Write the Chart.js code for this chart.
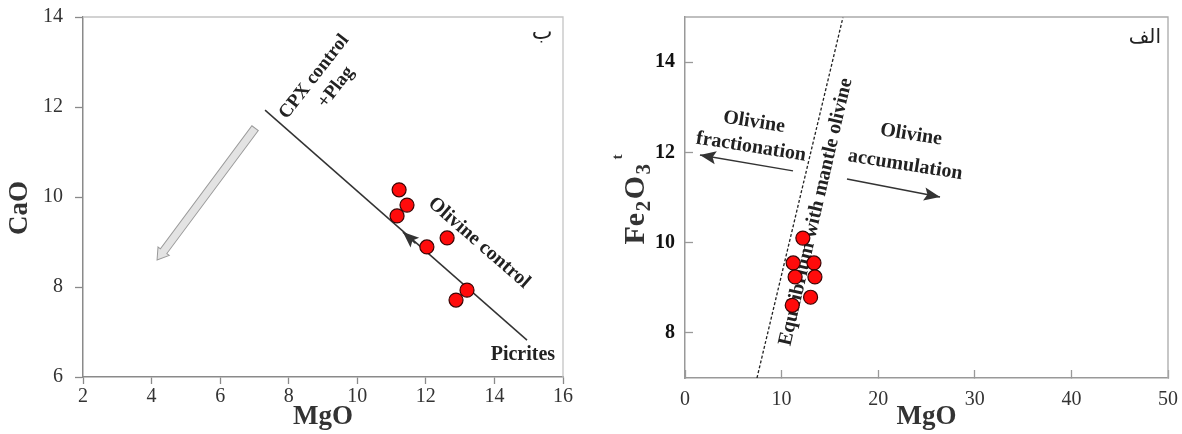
<!DOCTYPE html>
<html>
<head>
<meta charset="utf-8">
<script src="https://cdn.jsdelivr.net/npm/chart.js@4.4.1/dist/chart.umd.min.js"></script>
<style>
  html, body { margin: 0; padding: 0; background: #fff; }
  #wrap { position: relative; width: 1182px; height: 434px; }
  canvas { position: absolute; top: 0; }
  #chartCaO { left: 0; }
  #chartFe { left: 590px; }
</style>
</head>
<body>
<div id="wrap">
  <canvas id="chartCaO" width="590" height="434"></canvas>
  <canvas id="chartFe" width="592" height="434"></canvas>
</div>
<script>
// left diagram (ب) : CaO vs MgO
const mgoLeft = [11.22, 11.45, 11.16, 12.03, 12.62, 13.2, 12.88];
const caoLeft = [10.16, 9.82, 9.58, 8.89, 9.09, 7.93, 7.71];
const olivineLineX = [14.95, 7.31];
const olivineLineY = [6.82, 11.93];
const olivineArrowX = [11.7, 11.33];
const olivineArrowY = [8.97, 9.22];
const cpxArrowX = [7.02, 4.16];
const cpxArrowY = [11.53, 8.6];
const xTicksLeft = [2, 4, 6, 8, 10, 12, 14, 16];
const yTicksLeft = [6, 8, 10, 12, 14];

// right diagram (الف) : Fe2O3t vs MgO
const mgoRight = [12.2, 11.2, 13.35, 11.4, 13.45, 13.0, 11.1];
const feRight = [10.1, 9.55, 9.55, 9.24, 9.24, 8.79, 8.61];
const equilX = [7.45, 16.36];
const equilY = [7, 15];
const fractX = [11.18, 1.55];
const fractY = [11.59, 11.94];
const accumX = [16.77, 26.4];
const accumY = [11.41, 11.01];
const xTicksRight = [0, 10, 20, 30, 40, 50];
const yTicksRight = [8, 10, 12, 14];

const SERIF = '"Liberation Serif", "Times New Roman", serif';
const xy = (xs, ys) => xs.map((x, i) => ({ x: x, y: ys[i] }));

function drawText(ctx, text, x, y, rot, font, color) {
  ctx.save();
  ctx.translate(x, y);
  ctx.rotate(rot * Math.PI / 180);
  ctx.font = font;
  ctx.fillStyle = color;
  ctx.textAlign = "center";
  ctx.textBaseline = "middle";
  ctx.fillText(text, 0, 0);
  ctx.restore();
}

function arrowHead(ctx, x0, y0, x1, y1, len, half, color) {
  const a = Math.atan2(y1 - y0, x1 - x0);
  ctx.save();
  ctx.translate(x1, y1);
  ctx.rotate(a);
  ctx.fillStyle = color;
  ctx.beginPath();
  ctx.moveTo(0, 0);
  ctx.lineTo(-len, -half);
  ctx.lineTo(-len * 0.8, 0);
  ctx.lineTo(-len, half);
  ctx.closePath();
  ctx.fill();
  ctx.restore();
}

function blockArrow(ctx, x0, y0, x1, y1) {
  const a = Math.atan2(y1 - y0, x1 - x0);
  const L = Math.hypot(x1 - x0, y1 - y0);
  const hl = 11, hw = 7, sw = 4;
  ctx.save();
  ctx.translate(x0, y0);
  ctx.rotate(a);
  ctx.beginPath();
  ctx.moveTo(0, -sw);
  ctx.lineTo(L - hl, -sw);
  ctx.lineTo(L - hl, -hw);
  ctx.lineTo(L, 0);
  ctx.lineTo(L - hl, hw);
  ctx.lineTo(L - hl, sw);
  ctx.lineTo(0, sw);
  ctx.closePath();
  ctx.fillStyle = "#e3e3e3";
  ctx.fill();
  ctx.strokeStyle = "#9a9a9a";
  ctx.lineWidth = 1;
  ctx.stroke();
  ctx.restore();
}

// texts, arrows, frame and axis titles
function decor(cfg) {
  return {
    id: "decor",
    beforeDatasetsDraw(chart) {
      const ctx = chart.ctx, sx = chart.scales.x, sy = chart.scales.y;
      (cfg.blocks || []).forEach(b => {
        blockArrow(ctx, sx.getPixelForValue(b.xs[0]), sy.getPixelForValue(b.ys[0]),
                        sx.getPixelForValue(b.xs[1]), sy.getPixelForValue(b.ys[1]));
      });
      (cfg.notes || []).forEach(n => {
        drawText(ctx, n.text, sx.getPixelForValue(n.x), sy.getPixelForValue(n.y),
                 n.rot || 0, n.font, n.color || "#222");
      });
    },
    afterDatasetsDraw(chart) {
      const ctx = chart.ctx;
      chart.data.datasets.forEach((ds, i) => {
        if (!ds.arrowHead) return;
        const pts = chart.getDatasetMeta(i).data;
        const p0 = pts[pts.length - 2], p1 = pts[pts.length - 1];
        arrowHead(ctx, p0.x, p0.y, p1.x, p1.y, 16, 6.5, ds.borderColor);
      });
    },
    afterDraw(chart) {
      const ctx = chart.ctx, a = chart.chartArea;
      ctx.save();
      ctx.strokeStyle = cfg.frame;
      ctx.lineWidth = 1.3;
      ctx.beginPath();
      ctx.moveTo(a.left, a.top);
      ctx.lineTo(a.right, a.top);
      ctx.lineTo(a.right, a.bottom);
      ctx.stroke();
      ctx.restore();
      cfg.titles(chart, ctx, a);
    }
  };
}

function axisCfg(min, max, tickList, o) {
  return {
    type: "linear",
    min: min,
    max: max,
    afterBuildTicks: s => { s.ticks = tickList.map(v => ({ value: v })); },
    afterFit: s => {
      if (o.w) s.width = o.w;
      if (o.h) s.height = o.h;
      s.paddingTop = 0; s.paddingBottom = 0;
      s.paddingLeft = 0; s.paddingRight = 0;
    },
    grid: { drawOnChartArea: false, tickLength: o.tick, color: o.line, tickWidth: 1.3 },
    border: { color: o.line, width: 1.5 },
    ticks: {
      padding: o.pad,
      color: o.color,
      font: { family: SERIF, size: 20, weight: o.bold ? "bold" : "normal" }
    }
  };
}

const common = {
  responsive: false,
  animation: false,
  devicePixelRatio: 1,
  plugins: { legend: { display: false }, tooltip: { enabled: false } }
};

const dots = (xs, ys) => ({
  data: xy(xs, ys),
  pointRadius: 7,
  pointBackgroundColor: "#ff0b0b",
  pointBorderColor: "#3a0505",
  pointBorderWidth: 1.2,
  showLine: false,
  order: 0
});

// ---- left chart
new Chart(document.getElementById("chartCaO"), {
  type: "scatter",
  data: {
    datasets: [
      dots(mgoLeft, caoLeft),
      { data: xy(olivineLineX, olivineLineY), showLine: true, pointRadius: 0,
        borderColor: "#333", borderWidth: 1.5, order: 2 },
      { data: xy(olivineArrowX, olivineArrowY), showLine: true, pointRadius: 0,
        borderColor: "#333", borderWidth: 1.5, order: 2, arrowHead: true }
    ]
  },
  options: Object.assign({}, common, {
    layout: { padding: { left: 0, top: 17, right: 27, bottom: 0 } },
    scales: {
      x: axisCfg(2, 16, xTicksLeft, { h: 57, tick: 7, pad: 1, line: "#8a8a8a", color: "#333" }),
      y: axisCfg(6, 14, yTicksLeft, { w: 83, tick: 8, pad: 12, line: "#8a8a8a", color: "#333" })
    }
  }),
  plugins: [decor({
    frame: "#c4c4c4",
    blocks: [{ xs: cpxArrowX, ys: cpxArrowY }],
    notes: [
      { text: "CPX control", x: 8.74, y: 12.67, rot: -52, font: "bold 19px " + SERIF },
      { text: "+Plag", x: 9.38, y: 12.44, rot: -52, font: "bold 19px " + SERIF },
      { text: "Olivine control", x: 13.55, y: 8.98, rot: 41, font: "bold 20px " + SERIF },
      { text: "Picrites", x: 14.83, y: 6.49, font: "bold 20px " + SERIF },
      { text: "ب", x: 15.39, y: 13.64, font: "22px \"DejaVu Sans\"" }
    ],
    titles(chart, ctx, a) {
      drawText(ctx, "CaO", 20, (a.top + a.bottom) / 2 + 11, -90, "bold 27px " + SERIF, "#333");
      drawText(ctx, "MgO", (a.left + a.right) / 2, 417, 0, "bold 27px " + SERIF, "#333");
    }
  })]
});

// ---- right chart
new Chart(document.getElementById("chartFe"), {
  type: "scatter",
  data: {
    datasets: [
      dots(mgoRight, feRight),
      { data: xy(equilX, equilY), showLine: true, pointRadius: 0,
        borderColor: "#222", borderWidth: 1.3, borderDash: [3, 2], order: 2 },
      { data: xy(fractX, fractY), showLine: true, pointRadius: 0,
        borderColor: "#333", borderWidth: 1.5, order: 2, arrowHead: true },
      { data: xy(accumX, accumY), showLine: true, pointRadius: 0,
        borderColor: "#333", borderWidth: 1.5, order: 2, arrowHead: true }
    ]
  },
  options: Object.assign({}, common, {
    layout: { padding: { left: 0, top: 17, right: 14, bottom: 0 } },
    scales: {
      x: axisCfg(0, 50, xTicksRight, { h: 56, tick: -8, pad: 18, line: "#999", color: "#333" }),
      y: axisCfg(7, 15, yTicksRight, { w: 95, tick: -8, pad: 18, line: "#999", color: "#111", bold: true })
    }
  }),
  plugins: [decor({
    frame: "#aaa",
    notes: [
      { text: "Olivine", x: 7.14, y: 12.67, rot: 9, font: "bold 20px " + SERIF },
      { text: "fractionation", x: 6.83, y: 12.12, rot: 9, font: "bold 20px " + SERIF },
      { text: "Olivine", x: 23.4, y: 12.39, rot: 9, font: "bold 20px " + SERIF },
      { text: "accumulation", x: 22.8, y: 11.72, rot: 9, font: "bold 20px " + SERIF },
      { text: "Equilibrium with mantle olivine", x: 13.56, y: 10.68, rot: -77, font: "bold 20px " + SERIF },
      { text: "الف", x: 47.6, y: 14.53, font: "20px \"DejaVu Sans\"" }
    ],
    titles(chart, ctx, a) {
      drawText(ctx, "MgO", (a.left + a.right) / 2, 417, 0, "bold 27px " + SERIF, "#333");
      // Fe2O3 with subscripts and superscript t
      const parts = [
        ["Fe", 30, 0], ["2", 21, 6], ["O", 30, 0], ["3", 21, 6], ["t", 15, -22]
      ];
      const gap = 1.5;
      ctx.save();
      ctx.translate(44, (a.top + a.bottom) / 2 + 6);
      ctx.rotate(-Math.PI / 2);
      ctx.fillStyle = "#333";
      ctx.textBaseline = "alphabetic";
      const widths = parts.map(p => {
        ctx.font = "bold " + p[1] + "px " + SERIF;
        return ctx.measureText(p[0]).width + gap;
      });
      const main = widths.slice(0, 4).reduce((s, v) => s + v, 0);
      let x = -main / 2;
      parts.forEach((p, i) => {
        ctx.font = "bold " + p[1] + "px " + SERIF;
        ctx.fillText(p[0], x + (p[0] === "t" ? 3 : 0), 10 + p[2]);
        x += widths[i];
      });
      ctx.restore();
    }
  })]
});
</script>
</body>
</html>
